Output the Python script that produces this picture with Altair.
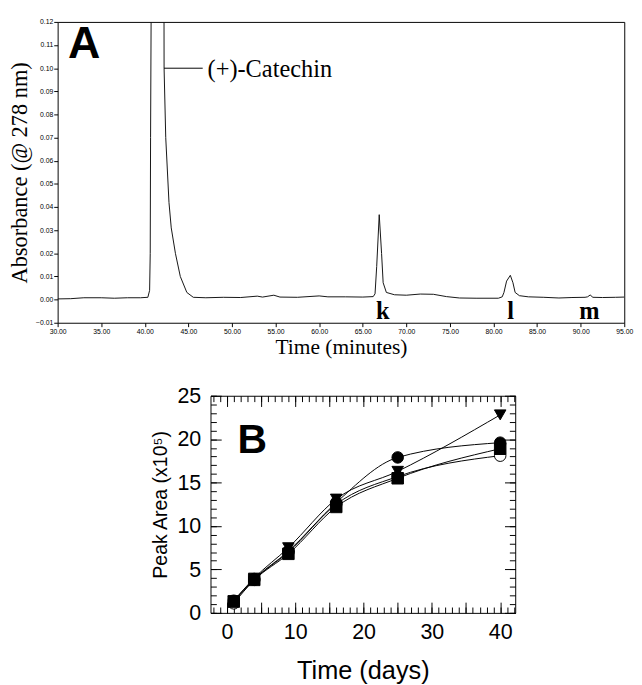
import altair as alt
import pandas as pd

# ---------------- Panel A: chromatogram ----------------
chrom_time = [30.0, 31.5, 33.0, 35.0, 36.5, 38.0, 39.5, 40.35, 40.55, 40.62, 40.66, 40.72,
              41.4, 42.2, 42.21, 42.40, 42.77, 43.03, 43.51, 44.07, 44.82, 45.56, 47.0, 49.0,
              51.0, 52.9, 53.5, 54.8, 55.5, 57.5, 60.0, 61.0, 63.0, 65.0, 66.2, 66.41, 66.6,
              66.89, 67.16, 67.34, 67.71, 68.64, 70.0, 71.6, 73.1, 74.6, 76.1, 78.0, 80.56,
              81.0, 81.2, 81.5, 81.93, 82.23, 82.48, 82.97, 84.0, 85.77, 87.5, 89.0, 90.5,
              90.79, 91.09, 91.4, 92.5, 94.0, 95.0]
chrom_abs = [0.0003, 0.0004, 0.0008, 0.0008, 0.0006, 0.0008, 0.0008, 0.0010, 0.0040, 0.0200,
             0.0700, 0.1200, 0.3000, 0.1300, 0.1000, 0.0700, 0.0420, 0.0310, 0.0200, 0.0100,
             0.0031, 0.0010, 0.0008, 0.0010, 0.0009, 0.0015, 0.0011, 0.0019, 0.0011, 0.0010,
             0.0016, 0.0012, 0.0012, 0.0011, 0.0013, 0.0025, 0.0143, 0.0367, 0.0199, 0.0073,
             0.0031, 0.0021, 0.0019, 0.0024, 0.0023, 0.0013, 0.0007, 0.0006, 0.0006, 0.0012,
             0.0031, 0.0080, 0.0105, 0.0073, 0.0031, 0.0017, 0.0012, 0.0010, 0.0007, 0.0009,
             0.0010, 0.0012, 0.0020, 0.0010, 0.0009, 0.0010, 0.0011]

a_xticks = [30, 35, 40, 45, 50, 55, 60, 65, 70, 75, 80, 85, 90, 95]
a_yticks = [-0.01, 0.0, 0.01, 0.02, 0.03, 0.04, 0.05, 0.06, 0.07, 0.08, 0.09, 0.10, 0.11, 0.12]

peak_labels = ["k", "l", "m"]
peak_label_t = [67.3, 81.95, 91.0]
peak_label_a = [-0.0082, -0.0082, -0.0082]

catechin_label = ["(+)-Catechin"]
catechin_t = [47.2]
catechin_a = [0.0997]
leader_t = [42.2]
leader_t2 = [46.64]
leader_a = [0.10]

panel_a_letter = ["A"]
panel_a_t = [31.2]
panel_a_a = [0.1045]

# ---------------- Panel B: peak area vs time ----------------
days = [1, 4, 9, 16, 25, 40]
filled_circle = [1.4, 3.9, 7.1, 12.7, 17.9, 19.6]
open_circle = [1.1, 3.8, 7.0, 12.5, 15.7, 18.1]
triangle_down = [1.4, 4.0, 7.5, 13.1, 16.3, 22.8]
filled_square = [1.3, 3.8, 6.8, 12.2, 15.5, 18.9]

b_xlabels = [0, 10, 20, 30, 40]
b_ylabels = [0, 5, 10, 15, 20, 25]
b_xmajor = [0, 5, 10, 15, 20, 25, 30, 35, 40]
b_xminor = list(range(-2, 43))
b_ymajor = [0, 5, 10, 15, 20, 25]
b_yminor = list(range(0, 26))

panel_b_letter = ["B"]
panel_b_day = [1.55]
panel_b_area = [18.45]

SERIF = "Liberation Serif"
SANS = "Liberation Sans"

WA, HA = 582, 309
WB, HB = 313, 223

# ---- Panel A chart ----
chrom_df = pd.DataFrame({"t": chrom_time, "a": chrom_abs})
xa = alt.Scale(domain=[30, 95], nice=False, zero=False)
ya = alt.Scale(domain=[-0.01, 0.12], nice=False, zero=False)

a_line = alt.Chart(chrom_df).mark_line(color="#111111", strokeWidth=1, clip=True).encode(
    x=alt.X("t:Q", scale=xa, axis=alt.Axis(
        values=a_xticks, tickCount=100, format=".2f", labelFont=SANS, labelFontSize=7, labelColor="black",
        tickSize=4, tickColor="black", labelPadding=1, domain=False, grid=False,
        labelFlush=False, labelOverlap=False,
        title="Time (minutes)", titleFont=SERIF, titleFontSize=22, titleFontWeight="normal",
        titleColor="black", titlePadding=3)),
    y=alt.Y("a:Q", scale=ya, axis=alt.Axis(
        values=a_yticks, tickCount=100, format=".2f", labelFont=SANS, labelFontSize=7, labelColor="black",
        tickSize=4, tickColor="black", labelPadding=1, domain=False, grid=False,
        labelFlush=False, labelOverlap=False,
        title="Absorbance (@ 278 nm)", titleFont=SERIF, titleFontSize=23, titleFontWeight="normal",
        titleColor="black", titlePadding=4)),
)

a_peaks = alt.Chart(pd.DataFrame({"t": peak_label_t, "a": peak_label_a, "lab": peak_labels})).mark_text(
    font=SERIF, fontSize=25, fontWeight="bold", color="black", align="center", baseline="alphabetic"
).encode(x="t:Q", y="a:Q", text="lab:N")

a_cat = alt.Chart(pd.DataFrame({"t": catechin_t, "a": catechin_a, "lab": catechin_label})).mark_text(
    font=SERIF, fontSize=25, color="black", align="left", baseline="middle"
).encode(x="t:Q", y="a:Q", text="lab:N")

a_leader = alt.Chart(pd.DataFrame({"t": leader_t, "t2": leader_t2, "a": leader_a})).mark_rule(
    color="black", strokeWidth=1
).encode(x="t:Q", x2="t2:Q", y="a:Q")

a_letter = alt.Chart(pd.DataFrame({"t": panel_a_t, "a": panel_a_a, "lab": panel_a_letter})).mark_text(
    font=SANS, fontSize=46, fontWeight="bold", color="black", align="left", baseline="alphabetic"
).encode(x="t:Q", y="a:Q", text="lab:N")

panel_a = alt.layer(a_line, a_leader, a_cat, a_peaks, a_letter).properties(width=WA, height=HA)

# ---- Panel B chart ----
series_names = ["open circle", "filled square", "triangle down", "filled circle"]
series_vals = [open_circle, filled_square, triangle_down, filled_circle]
rows = []
for name, vals in zip(series_names, series_vals):
    for d, v in zip(days, vals):
        rows.append({"day": d, "area": v, "series": name})
b_df = pd.DataFrame(rows)

xb = alt.Scale(domain=[-2.4, 42.2], nice=False, zero=False)
yb = alt.Scale(domain=[0, 25], nice=False, zero=False)

b_lines = alt.Chart(b_df).mark_line(color="black", strokeWidth=1, interpolate="monotone").encode(
    x=alt.X("day:Q", scale=xb, axis=alt.Axis(
        values=b_xlabels, tickCount=100, format="d", ticks=False, domain=False, grid=False,
        labelFont=SANS, labelFontSize=22, labelColor="black", labelPadding=9, labelFlush=False,
        labelOverlap=False, title="Time (days)", titleFont=SANS, titleFontSize=26,
        titleFontWeight="normal", titleColor="black", titlePadding=16)),
    y=alt.Y("area:Q", scale=yb, axis=alt.Axis(
        values=b_ylabels, tickCount=100, format="d", ticks=False, domain=False, grid=False,
        labelFont=SANS, labelFontSize=22, labelColor="black", labelPadding=10, labelFlush=False,
        labelOverlap=False, title="Peak Area (x10⁵)", titleFont=SANS,
        titleFontSize=20, titleFontWeight="normal", titleColor="black", titlePadding=7)),
    detail="series:N",
)

b_points = alt.Chart(b_df).mark_point(size=140, stroke="black", strokeWidth=1, opacity=1, fillOpacity=1).encode(
    x=alt.X("day:Q", scale=xb, axis=None),
    y=alt.Y("area:Q", scale=yb, axis=None),
    shape=alt.Shape("series:N", scale=alt.Scale(domain=series_names,
                    range=["circle", "square", "triangle-down", "circle"]), legend=None),
    fill=alt.Fill("series:N", scale=alt.Scale(domain=series_names,
                  range=["white", "black", "black", "black"]), legend=None),
)

b_letter = alt.Chart(pd.DataFrame({"day": panel_b_day, "area": panel_b_area, "lab": panel_b_letter})).mark_text(
    font=SANS, fontSize=42, fontWeight="bold", color="black", align="left", baseline="alphabetic"
).encode(
    x=alt.X("day:Q", scale=xb, axis=None),
    y=alt.Y("area:Q", scale=yb, axis=None),
    text="lab:N",
)


def tick_layer(xorient, xoffset, yorient, yoffset, xvals, yvals, size):
    return alt.Chart(b_df).mark_point(opacity=0).encode(
        x=alt.X("day:Q", scale=xb, axis=alt.Axis(
            orient=xorient, offset=xoffset, values=xvals, tickCount=200, labels=False, domain=False,
            tickSize=size, tickColor="black", tickWidth=1, title=None, grid=False)),
        y=alt.Y("area:Q", scale=yb, axis=alt.Axis(
            orient=yorient, offset=yoffset, values=yvals, tickCount=200, labels=False, domain=False,
            tickSize=size, tickColor="black", tickWidth=1, title=None, grid=False)),
    )


t1 = tick_layer("top", -HB, "right", -WB, b_xmajor, b_ymajor, 11)
t2 = tick_layer("top", -HB, "right", -WB, b_xminor, b_yminor, 6)
t3 = tick_layer("bottom", -HB, "left", -WB, b_xmajor, b_ymajor, 11)
t4 = tick_layer("bottom", -HB, "left", -WB, b_xminor, b_yminor, 6)

panel_b = alt.layer(b_lines, b_points, b_letter, t1, t2, t3, t4).resolve_scale(
    x="independent", y="independent"
).properties(width=WB, height=HB)

spacer = alt.Chart(pd.DataFrame({"v": [0]})).mark_point(opacity=0).encode(
    x=alt.value(0), y=alt.value(0)
).properties(width=94, height=10, view=alt.ViewBackground(stroke="transparent"))

bottom_row = alt.hconcat(spacer, panel_b, spacing=0)

chart = alt.vconcat(panel_a, bottom_row, spacing=26).properties(
    padding={"left": 0, "top": 0, "right": 0, "bottom": 0},
    background="white",
).configure_view(stroke="black", strokeWidth=1)

chart.save("out.html", embed_options={"renderer": "svg", "actions": False})
